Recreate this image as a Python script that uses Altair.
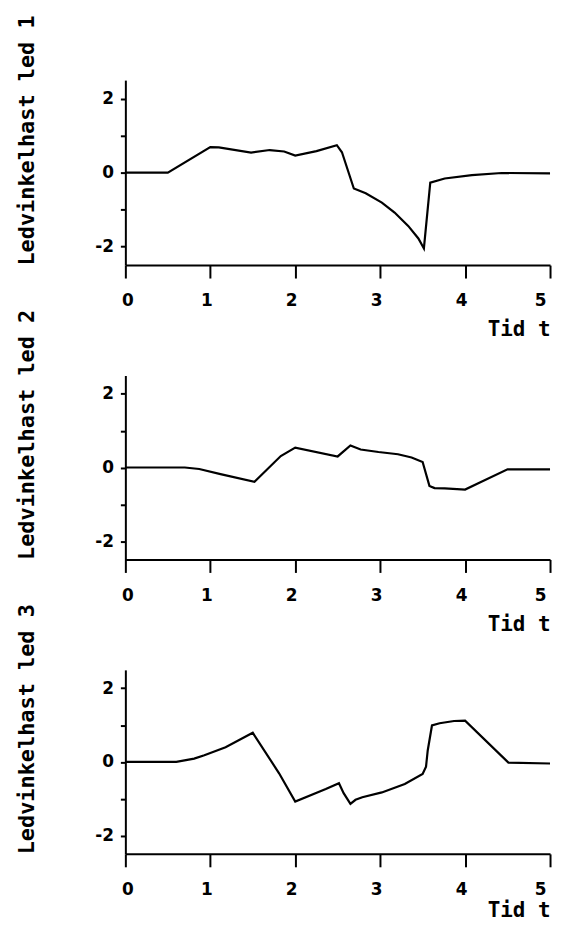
import altair as alt
import pandas as pd

# Panel 1: Ledvinkelhast led 1
t1 = [0, 0.5, 1.0, 1.1, 1.48, 1.7, 1.87, 2.0, 2.25, 2.49, 2.55, 2.69, 2.83, 3.02, 3.17, 3.33, 3.45, 3.515, 3.59, 3.76, 4.08, 4.43, 5.0]
v1 = [0, 0, 0.69, 0.68, 0.54, 0.61, 0.57, 0.46, 0.58, 0.74, 0.55, -0.43, -0.56, -0.81, -1.08, -1.44, -1.78, -2.05, -0.27, -0.16, -0.07, -0.01, -0.02]

# Panel 2: Ledvinkelhast led 2
t2 = [0, 0.7, 0.87, 1.12, 1.52, 1.83, 2.0, 2.5, 2.65, 2.77, 2.98, 3.21, 3.37, 3.5, 3.58, 3.64, 3.76, 4.0, 4.18, 4.5, 5.0]
v2 = [0, 0, -0.04, -0.18, -0.39, 0.31, 0.54, 0.30, 0.60, 0.49, 0.42, 0.36, 0.27, 0.15, -0.50, -0.56, -0.57, -0.60, -0.40, -0.05, -0.05]

# Panel 3: Ledvinkelhast led 3
t3 = [0, 0.6, 0.81, 0.93, 1.18, 1.5, 1.81, 2.0, 2.36, 2.515, 2.57, 2.65, 2.71, 2.79, 3.02, 3.29, 3.5, 3.54, 3.56, 3.61, 3.7, 3.87, 4.0, 4.51, 5.0]
v3 = [0, 0, 0.09, 0.18, 0.40, 0.79, -0.31, -1.08, -0.74, -0.58, -0.85, -1.14, -1.03, -0.96, -0.83, -0.60, -0.33, -0.13, 0.31, 0.99, 1.05, 1.11, 1.12, -0.02, -0.045]

titles = ["Ledvinkelhast led 1", "Ledvinkelhast led 2", "Ledvinkelhast led 3"]
x_ticks = [0, 1, 2, 3, 4, 5]
y_ticks = [-2, -1, 0, 1, 2]

TITLE_FONT = "DejaVu Sans Mono"
LABEL_FONT = "DejaVu Sans"


def panel(t, v, ytitle, xtitle_pad, h):
    df = pd.DataFrame({"t": t, "v": v})
    return alt.Chart(df).mark_line(color="black", strokeWidth=2.2).encode(
        x=alt.X("t:Q", scale=alt.Scale(domain=[0, 5], nice=False),
                axis=alt.Axis(title="Tid t", values=x_ticks, format="d",
                              grid=False, domainColor="black", domainWidth=2,
                              tickColor="black", tickWidth=2, tickSize=13,
                              labelPadding=15, labelOffset=-4,
                              labelFont=LABEL_FONT,
                              labelFontWeight="bold", labelFontSize=17,
                              labelColor="black",
                              titleFont=TITLE_FONT, titleFontWeight="bold",
                              titleFontSize=21, titleColor="black",
                              titleAnchor="end", titlePadding=xtitle_pad)),
        y=alt.Y("v:Q", scale=alt.Scale(domain=[-2.5, 2.5], nice=False),
                axis=alt.Axis(title=ytitle, values=y_ticks,
                              labelExpr="datum.value % 2 == 0 ? toString(datum.value) : ''",
                              grid=False, domainColor="black", domainWidth=2,
                              tickColor="black", tickWidth=2, tickSize=5,
                              labelPadding=7, labelFont=LABEL_FONT,
                              labelFontWeight="bold", labelFontSize=17,
                              labelColor="black",
                              titleFont=TITLE_FONT, titleFontWeight="bold",
                              titleFontSize=22, titleColor="black",
                              titleAnchor="start", titlePadding=56)),
    ).properties(width=427, height=h)


chart = alt.vconcat(
    panel(t1, v1, titles[0], 10, 186),
    panel(t2, v2, titles[1], 10, 185),
    panel(t3, v3, titles[2], 2, 185),
    spacing=111,
    bounds="flush",
).properties(
    padding={"left": 8, "top": 4, "right": 0, "bottom": 0},
    background="white",
).configure_view(stroke=None)

chart.save("out.html", embed_options={"renderer": "svg", "actions": False})
